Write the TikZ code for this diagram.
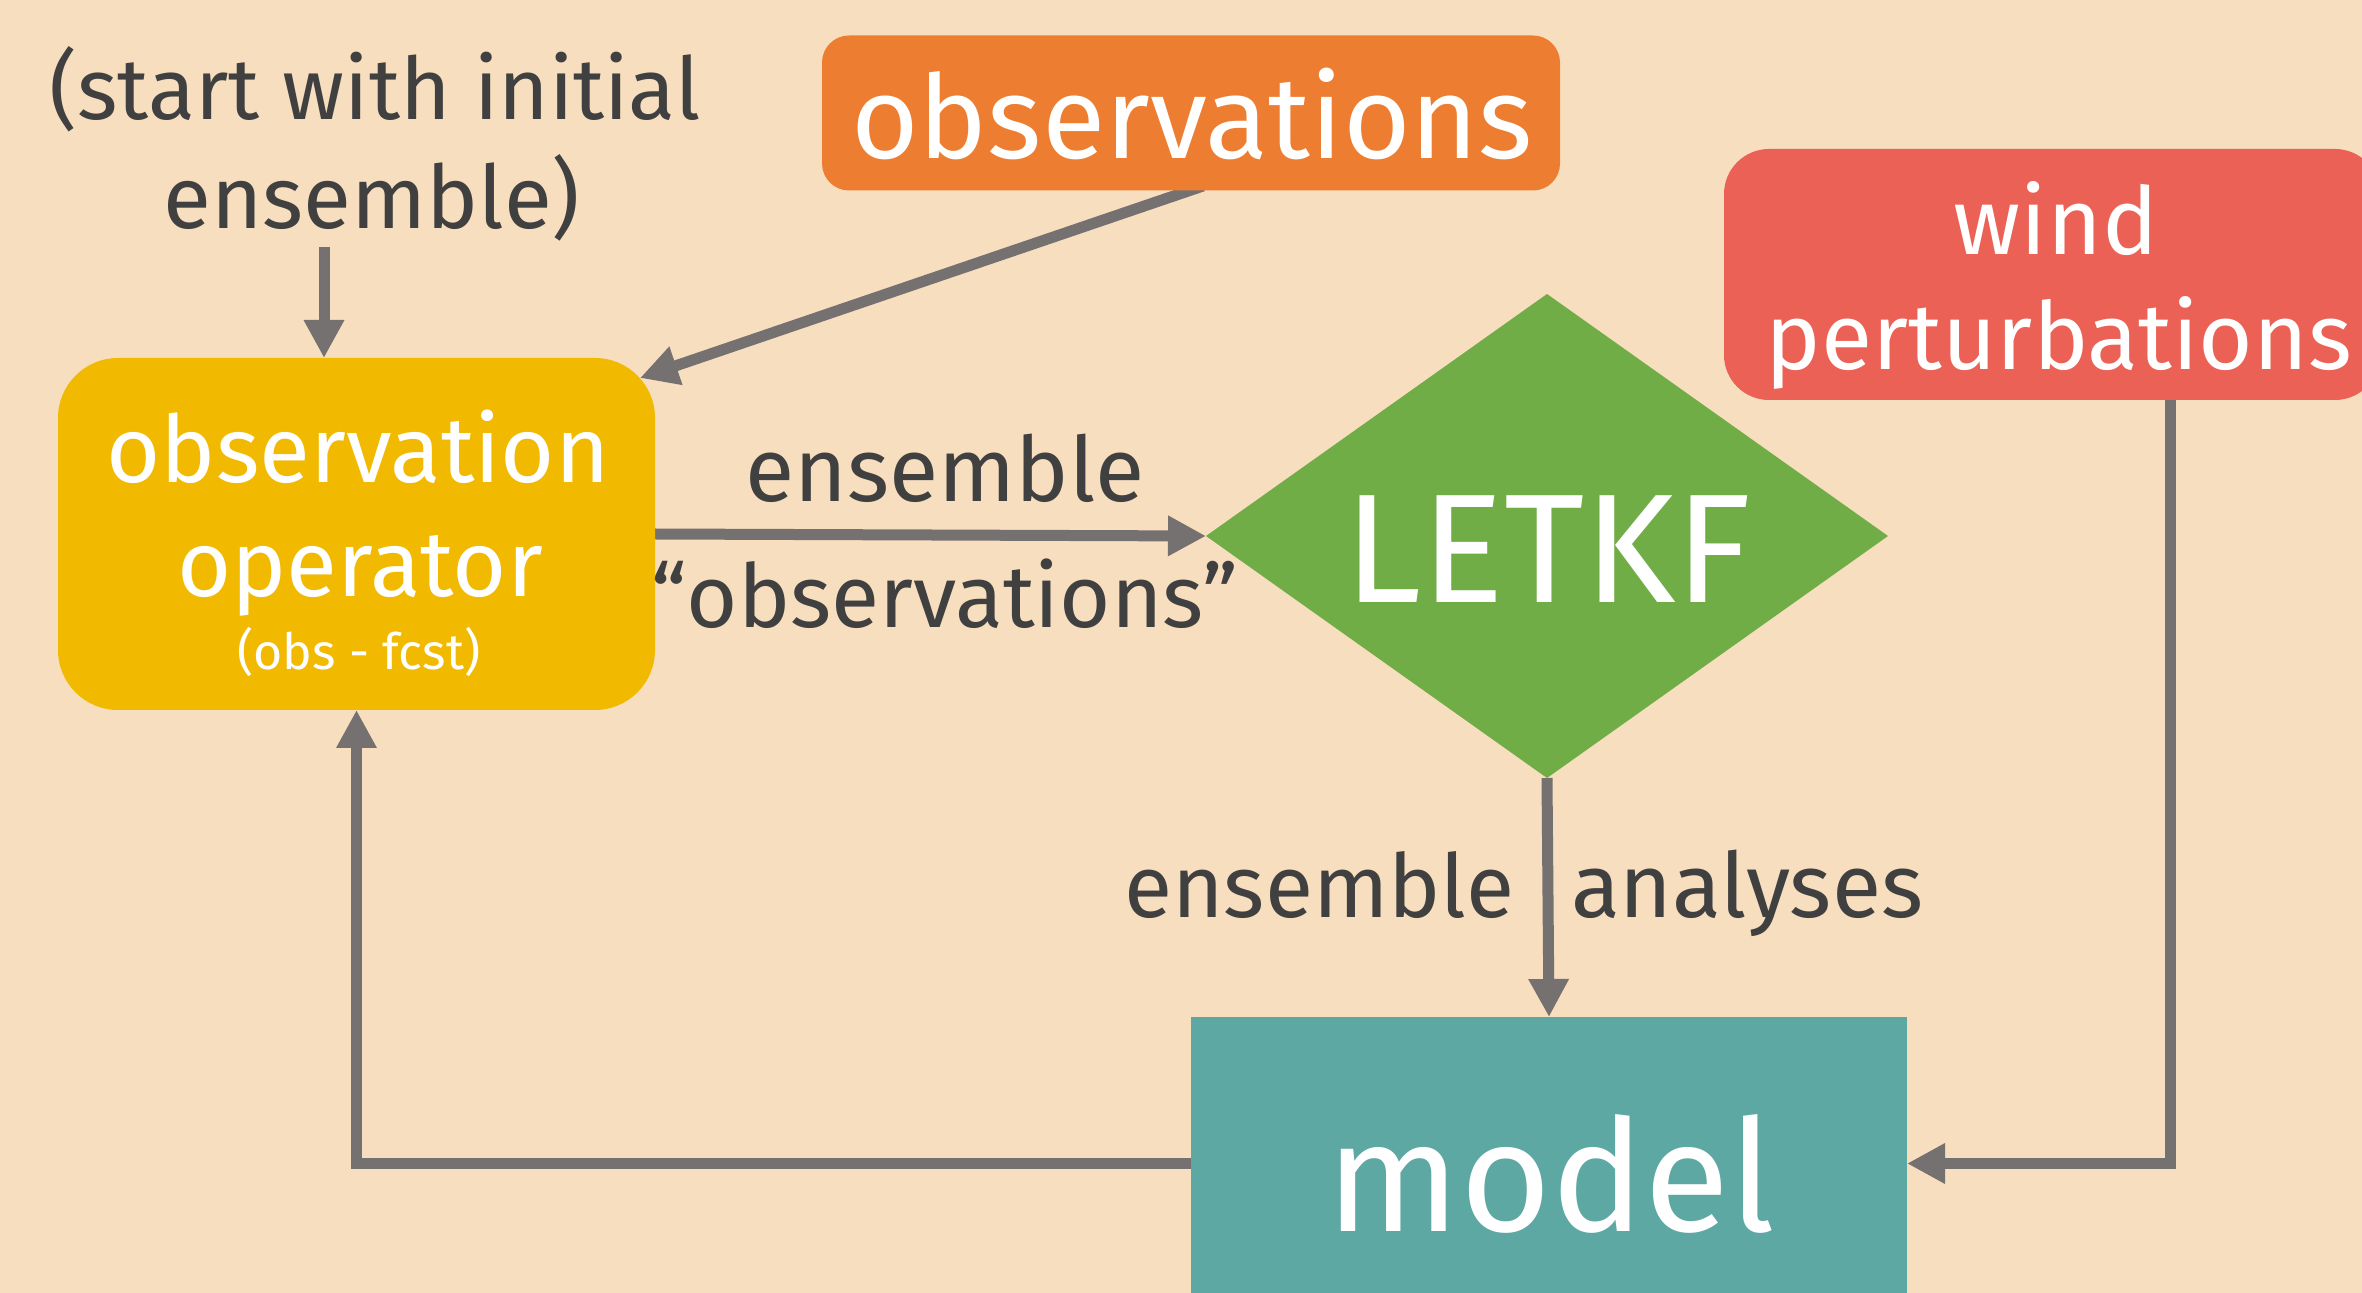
\documentclass[tikz,border=0pt]{standalone}
\usepackage{fontspec}
\setmainfont{Fira Sans}
\usetikzlibrary{arrows.meta,shapes.geometric}
\definecolor{bgc}{HTML}{F7DEBF}
\definecolor{orangec}{HTML}{ED7D31}
\definecolor{redc}{HTML}{EB6155}
\definecolor{yellowc}{HTML}{F1B900}
\definecolor{greenc}{HTML}{70AD47}
\definecolor{tealc}{HTML}{5DA8A3}
\definecolor{linec}{HTML}{767171}
\definecolor{textc}{HTML}{404040}
\pgfdeclarelayer{bg}
\pgfsetlayers{bg,main}
\newcommand{\fs}[1]{\fontsize{#1}{#1}\selectfont}
\tikzset{
  boxshape/.style={inner sep=0pt, outer sep=0pt, draw=none},
  txt/.style={inner sep=0pt, outer sep=0pt, anchor=base},
  wtxt/.style={txt, text=white},
  dtxt/.style={txt, text=textc},
  conn/.style={draw=linec, line width=5.5pt, line join=miter, -{Triangle[length=19pt,width=19pt]}}
}
\begin{document}
\begin{tikzpicture}[x=0.5pt,y=-0.5pt]
\useasboundingbox (0,0) rectangle (2362,1293);
\clip (0,0) rectangle (2362,1293);
\begin{pgfonlayer}{bg}
\fill[bgc] (0,0) rectangle (2362,1293);
\end{pgfonlayer}

% boxes
\node[boxshape, fill=orangec, rounded corners=13.5pt, minimum width=369pt, minimum height=77.5pt] (obs) at (1191,113) {};
\node[boxshape, fill=redc, rounded corners=22.5pt, minimum width=328pt, minimum height=125.5pt] (wind) at (2052,274.5) {};
\node[boxshape, fill=yellowc, rounded corners=30pt, minimum width=298.5pt, minimum height=176pt] (oo) at (356.5,534) {};
\node[boxshape, fill=greenc, diamond, minimum width=341pt, minimum height=242pt] (letkf) at (1547,536) {};
\node[boxshape, fill=tealc, minimum width=358pt, minimum height=146.5pt] (model) at (1549,1163.5) {};

% texts
\node[dtxt] (l1) at (375,120) {\fs{43.2pt}(start with initial};
\node[dtxt] (l2) at (372,229) {\fs{43.8pt}ensemble)};
\node[wtxt] (obst) at (1192,159) {\fs{58pt}observations};
\node[wtxt] (windt1) at (2056,255) {\fs{46.8pt}wind};
\node[wtxt] (windt2) at (2059,370) {\fs{46.8pt}perturbations};
\node[wtxt] (oot1) at (358,483) {\fs{46.5pt}observation};
\node[wtxt] (oot2) at (360,597) {\fs{46.5pt}operator};
\node[wtxt] (oot3) at (359,670) {\fs{25pt}(obs - fcst)};
\node[dtxt] (e1) at (945,502) {\fs{45pt}ensemble};
\node[dtxt] (e2) at (945,628) {\fs{44pt}“observations”};
\node[wtxt] (letkft) at (1548,603) {\fs{77.5pt}LETKF};
\node[dtxt, anchor=base east] (a1) at (1514,918) {\fs{44pt}ensemble};
\node[dtxt, anchor=base west] (a2) at (1571,918) {\fs{45pt}analyses};
\node[wtxt] (modelt) at (1551,1231) {\fs{78pt}model};

% connectors
\coordinate (s1) at (324,247);
\coordinate (o1) at (1203,186);
\coordinate (o2) at (640,378);
\coordinate (w1) at (2170,395);
\begin{pgfonlayer}{bg}
\draw[conn] (s1) -- (s1 |- oo.north);
\draw[conn] (o1) -- (o2);
\draw[conn] (oo.east) -- (letkf.west);
\draw[conn] (letkf.south) -- (model.north);
\draw[conn] (w1) |- (model.east);
\draw[conn] (model.west) -| (oo.south);
\end{pgfonlayer}
\end{tikzpicture}
\end{document}
